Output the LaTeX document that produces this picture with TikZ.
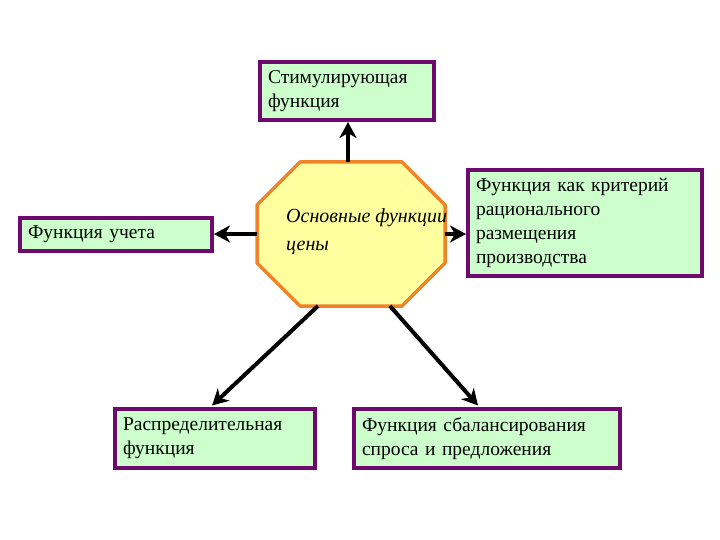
\documentclass[tikz,border=0pt]{standalone}
\usepackage{fontspec}
\setmainfont{Liberation Serif}
\usetikzlibrary{arrows.meta}
\definecolor{boxfill}{RGB}{204,255,204}
\definecolor{boxline}{RGB}{110,10,110}
\definecolor{octfill}{RGB}{255,255,160}
\definecolor{octline}{RGB}{240,130,40}
\tikzset{
  fbox/.style={draw=boxline, fill=boxfill, line width=4pt, inner xsep=8pt, inner ysep=0pt,
    align=left, font=\fontsize{19.5}{24}\selectfont, anchor=north west},
  conn/.style={line width=4pt, -{Stealth[length=16pt,width=17pt,inset=5pt]}},
}
\begin{document}
\begin{tikzpicture}[x=1pt,y=1pt]
\useasboundingbox (0,0) rectangle (720,-540);
\node[fbox, text width=158pt, minimum height=58pt] (stim) at (258,-60) {Стимулирующая\\функция};
\node[fbox, text width=176pt, minimum height=33pt] (uchet) at (18,-216) {Функция учета};
\node[fbox, text width=218pt, minimum height=106pt] (krit) at (466,-168) {Функция как критерий\\рационального\\размещения\\производства};
\node[fbox, text width=184pt, minimum height=59pt] (raspr) at (113,-407) {Распределительная\\функция};
\node[fbox, text width=250pt, minimum height=59pt] (sbal) at (352,-407) {Функция сбалансирования\\спроса и предложения};
\draw[draw=octline, fill=octfill, line width=3.5pt, line join=round]
  (300,-162) -- (402,-162) -- (445,-205) -- (445,-263) -- (402,-306) -- (300,-306) -- (257,-263) -- (257,-205) -- cycle;
\node[anchor=west, align=left, inner sep=0pt, font=\fontsize{20}{28}\selectfont\itshape] (osn) at (286,-232) {Основные функции\\цены};
\coordinate (octN) at (348,-162);
\coordinate (octW) at (257,-234);
\coordinate (octE) at (445,-234);
\coordinate (octSW) at (318,-306);
\coordinate (octSE) at (390,-306);
\draw[conn] (octN) -- (stim.south -| octN);
\draw[conn] (octW) -- (uchet.east |- octW);
\draw[conn] (octE) -- (krit.west |- octE);
\draw[conn] (octSW) -- (212,-405.5);
\draw[conn] (octSE) -- (478,-405.5);
\end{tikzpicture}
\end{document}
